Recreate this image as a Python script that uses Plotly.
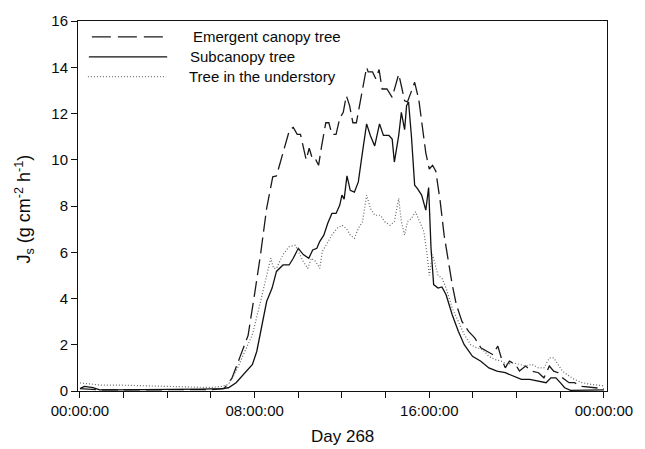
import plotly.graph_objects as go

# ---- data (hours of day 268, sap flux density) ----
emergent_h = [0, 0.5, 1, 2, 3, 4, 5, 6, 6.6, 6.97, 7.3, 7.7, 8.0, 8.27, 8.55, 8.83, 9.0, 9.4, 9.6, 9.77,
              9.95, 10.1, 10.23, 10.36, 10.5, 10.66, 10.8, 10.93, 11.07, 11.26, 11.4, 11.54, 11.73, 11.9,
              12.06, 12.2, 12.35, 12.5, 12.66, 12.85, 13.0, 13.13, 13.2, 13.4, 13.55, 13.7, 13.84, 14.06,
              14.3, 14.44, 14.6, 14.72, 14.87, 15.0, 15.15, 15.33, 15.52, 15.65, 15.84, 16.0, 16.15, 16.3,
              16.5, 16.68, 16.86, 17.05, 17.24, 17.5, 17.8, 18.08, 18.36, 18.64, 18.9, 19.14, 19.3, 19.48,
              19.67, 19.95, 20.13, 20.41, 20.7, 21.0, 21.25, 21.5, 21.7, 21.9, 22.1, 22.4, 22.65, 23.0,
              23.4, 24.0]
emergent_v = [0.1, 0.08, 0.05, 0.05, 0.05, 0.05, 0.05, 0.06, 0.1, 0.57, 1.4, 2.4, 4.2, 5.9, 7.9, 9.26, 9.3,
              10.6, 11.3, 11.4, 11.1, 11.1, 10.5, 10.0, 10.5, 10.0, 10.0, 9.76, 10.6, 11.6, 11.6, 11.1, 11.1,
              11.8, 12.05, 12.77, 12.34, 11.6, 11.6, 12.6, 13.5, 14.0, 13.8, 13.8, 13.5, 13.9, 13.06, 13.06,
              12.7, 13.2, 13.7, 13.2, 12.55, 12.5, 12.9, 13.35, 12.6, 11.6, 10.3, 9.6, 9.76, 9.5, 8.2, 6.74,
              5.6, 4.6, 3.73, 3.0, 2.58, 2.3, 1.87, 1.72, 1.58, 1.94, 1.43, 1.0, 1.29, 1.15, 0.86, 1.08,
              0.86, 0.79, 0.57, 1.08, 0.86, 0.79, 0.57, 0.36, 0.36, 0.2, 0.15, 0.1]

subcanopy_h = [0, 0.2, 0.6, 0.9, 1.5, 2.5, 3.5, 4.5, 5.5, 6.5, 6.8, 7.15, 7.5, 7.9, 8.1, 8.27, 8.55, 8.8,
               9.0, 9.3, 9.58, 9.77, 10.0, 10.23, 10.48, 10.66, 10.85, 10.98, 11.17, 11.35, 11.54, 11.73,
               11.9, 12.0, 12.1, 12.23, 12.38, 12.57, 12.75, 12.94, 13.13, 13.3, 13.5, 13.72, 13.9, 14.15,
               14.3, 14.4, 14.6, 14.72, 14.8, 14.87, 14.96, 15.05, 15.18, 15.33, 15.46, 15.65, 15.84, 15.97,
               16.08, 16.2, 16.4, 16.58, 16.77, 17.05, 17.33, 17.6, 17.98, 18.36, 18.73, 19.1, 19.48, 19.85,
               20.22, 20.6, 21.0, 21.35, 21.57, 21.8, 22.0, 22.2, 22.47, 23.0, 24.0]
subcanopy_v = [0.1, 0.2, 0.15, 0.05, 0.05, 0.05, 0.06, 0.06, 0.08, 0.1, 0.14, 0.36, 0.72, 1.15, 1.72, 2.58,
               3.87, 4.45, 5.17, 5.45, 5.45, 5.74, 6.17, 5.9, 5.74, 6.1, 6.17, 6.46, 6.74, 7.25, 7.68, 7.68,
               8.04, 8.47, 8.3, 9.3, 8.68, 8.6, 9.04, 10.33, 11.55, 11.05, 10.6, 11.55, 11.05, 11.05, 10.9,
               9.9, 11.05, 12.05, 11.6, 11.3, 12.34, 12.5, 11.05, 8.9, 8.75, 8.47, 7.82, 8.8, 6.17, 4.6,
               4.45, 4.5, 4.16, 3.3, 2.58, 2.0, 1.5, 1.29, 1.0, 0.86, 0.79, 0.65, 0.5, 0.5, 0.43, 0.36,
               0.57, 0.57, 0.36, 0.14, 0.03, 0.03, 0.05]

understory_h = [0, 0.5, 1, 2, 3, 4, 5, 6, 6.5, 6.8, 7.15, 7.5, 7.9, 8.27, 8.55, 8.74, 8.87, 9.0, 9.3, 9.58,
                9.86, 10.05, 10.23, 10.43, 10.6, 10.8, 10.98, 11.1, 11.35, 11.54, 11.77, 12.0, 12.2, 12.38,
                12.57, 12.75, 12.94, 13.13, 13.3, 13.5, 13.77, 13.96, 14.2, 14.4, 14.6, 14.72, 14.87, 15.0,
                15.18, 15.37, 15.56, 15.75, 15.9, 16.0, 16.15, 16.26, 16.4, 16.58, 16.77, 17.05, 17.33, 17.6,
                17.9, 18.17, 18.45, 18.73, 19.0, 19.3, 19.57, 19.85, 20.13, 20.41, 20.7, 21.0, 21.25, 21.5,
                21.7, 21.9, 22.1, 22.4, 22.65, 23.0, 23.4, 24.0]
understory_v = [0.35, 0.3, 0.25, 0.25, 0.22, 0.18, 0.15, 0.15, 0.2, 0.29, 0.86, 1.58, 2.44, 3.87, 5.0, 5.74,
                5.3, 5.3, 5.9, 6.24, 6.3, 5.9, 5.6, 5.3, 5.74, 5.6, 5.3, 6.03, 6.46, 6.74, 7.03, 7.17, 7.03,
                6.74, 6.6, 7.03, 7.32, 8.47, 7.9, 7.6, 7.6, 7.32, 7.17, 7.32, 8.33, 7.32, 6.74, 7.32, 7.46,
                7.75, 7.32, 6.9, 5.9, 5.0, 5.9, 5.45, 5.0, 4.88, 4.45, 3.59, 3.0, 2.44, 2.0, 1.87, 1.79, 1.5,
                1.36, 1.29, 1.15, 1.22, 1.15, 1.08, 1.15, 1.0, 1.0, 1.43, 1.43, 1.15, 0.86, 0.65, 0.5, 0.36,
                0.29, 0.22]

x_tickvals = [0, 8, 16, 24]
x_ticktext = ["00:00:00", "08:00:00", "16:00:00", "00:00:00"]
series_names = ["Emergent canopy tree", "Subcanopy tree", "Tree in the understory"]

FONT = "Liberation Sans, Arial, sans-serif"
INK = "#0a0a0a"

fig = go.Figure()
fig.add_trace(go.Scatter(x=emergent_h, y=emergent_v, mode="lines", name=series_names[0],
                         line=dict(color="#1a1a1a", width=1.3, dash="16px,6px"), showlegend=False))
fig.add_trace(go.Scatter(x=subcanopy_h, y=subcanopy_v, mode="lines", name=series_names[1],
                         line=dict(color="#111111", width=1.3), showlegend=False))
fig.add_trace(go.Scatter(x=understory_h, y=understory_v, mode="lines", name=series_names[2],
                         line=dict(color="#666666", width=1.2, dash="1px,2px"), showlegend=False))

# manual legend (paper coords derived from pixel layout)
L, R, T, B = 78, 33, 19, 58
W, H = 645 - L - R, 449 - T - B
def px(xp):
    return (xp - L) / W
def py(yp):
    return (449 - B - yp) / H

legend_rows = [
    (35, 92, 164, dict(color="#1a1a1a", width=1.3, dash="19px,7px"), 192),
    (55, 89, 168, dict(color="#111111", width=1.3), 189),
    (75, 88, 167, dict(color="#777777", width=1.2, dash="1px,2px"), 188),
]
for (yy, x0, x1, ln, tx), name in zip(legend_rows, series_names):
    fig.add_shape(type="line", xref="paper", yref="paper", x0=px(x0), x1=px(x1), y0=py(yy), y1=py(yy), line=ln)
    fig.add_annotation(xref="paper", yref="paper", x=px(tx), y=py(yy), text=name, showarrow=False,
                       xanchor="left", yanchor="middle", font=dict(family=FONT, size=15, color=INK))

fig.add_annotation(xref="paper", yref="paper", x=px(24), y=py(208), textangle=-90,
                   text="J<sub>s</sub> (g cm<sup>-2</sup> h<sup>-1</sup>)", showarrow=False,
                   xanchor="center", yanchor="middle", font=dict(family=FONT, size=18, color=INK))
fig.add_annotation(xref="paper", yref="paper", x=px(345.5), y=py(437), text="Day 268", showarrow=False,
                   xanchor="center", yanchor="middle", borderpad=0, font=dict(family=FONT, size=17, color=INK))

fig.update_layout(
    width=645, height=449, margin=dict(l=L, r=R, t=T, b=B),
    paper_bgcolor="white", plot_bgcolor="white",
    font=dict(family=FONT, size=15, color=INK),
    xaxis=dict(range=[-0.09, 24.14], tickvals=x_tickvals, ticktext=x_ticktext, ticks="outside",
               ticklen=6, tickcolor="#111", showline=True, linecolor="#111", linewidth=1, mirror=True,
               showgrid=False, zeroline=False,
               minor=dict(tickvals=[2, 4, 6, 10, 12, 14, 18, 20, 22], ticks="outside", ticklen=6,
                          tickcolor="#111", showgrid=False)),
    yaxis=dict(range=[0, 16], tickvals=list(range(0, 17, 2)), ticks="outside", ticklen=6,
               tickcolor="#111", showline=True, linecolor="#111", linewidth=1, mirror=True,
               showgrid=False, zeroline=False),
)

fig.write_html("out.html")
